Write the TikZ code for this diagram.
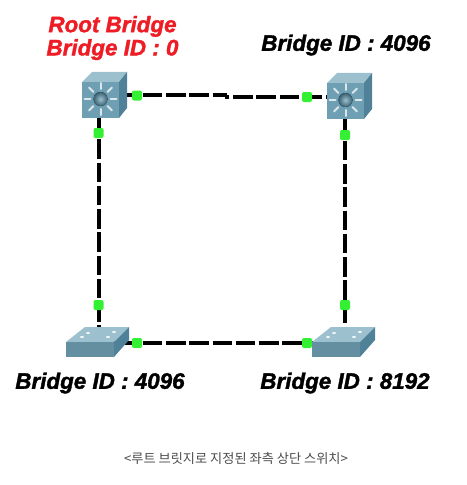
\documentclass[tikz,border=0pt]{standalone}
\usepackage{fontspec}
\setmainfont{Liberation Sans}[BoldItalicFeatures={FakeBold=1.6}]
\newfontfamily\cjk{Noto Sans CJK KR}
\usepackage{xcolor}
\usetikzlibrary{positioning,calc}
\definecolor{swfront}{HTML}{6F9FB3}
\definecolor{swtop}{HTML}{9CC0CE}
\definecolor{swside}{HTML}{4F8299}
\definecolor{portgreen}{HTML}{33F033}
\definecolor{rootred}{HTML}{EE1C25}
\tikzset{
  link/.style={line width=3pt,black,dash pattern=on 14.6pt off 2.85pt,dash phase=2.4pt},
  port/.style={fill=portgreen,draw=none,rounded corners=1.5pt,minimum size=7.5pt,inner sep=0pt},
  bridgeid/.style={font=\bfseries\itshape\fontsize{16.8}{17.4}\selectfont,align=center,inner sep=0pt},
  hub/.style={minimum size=1pt,inner sep=0pt},
  mlswitch/.pic={
    \fill[swtop] (0,-18) -- (10,-28) -- (45,-28) -- (37,-18) -- cycle;
    \fill[swside] (37,-18) -- (45,-28) -- (45,8) -- (37,18) -- cycle;
    \fill[swfront] (0,-18) rectangle (37,18);
    \foreach \a in {0,45,...,315}
      \draw[white!75!swfront,line width=1.5pt,line cap=round] ($(18.5,-1)+(\a:10)$) -- ($(18.5,-1)+(\a:16)$);
    \fill[inner color=swtop,outer color=swside!75!black] (18.5,-1) circle (7);
  },
  l2switch/.pic={
    \fill[swtop] (0,-1) -- (19,-16) -- (63,-16) -- (48,-1) -- cycle;
    \fill[swside] (48,-1) -- (63,-16) -- (63,-3) -- (48,14) -- cycle;
    \fill[swfront!90!black] (0,-1) rectangle (48,14);
    \foreach \p in {(22,-10),(16,-6),(48,-11),(42,-6)}
      \fill[white!85!swtop] \p ellipse (2 and 1);
  },
}
\begin{document}
\begin{tikzpicture}[x=0.75pt,y=-0.75pt]
  % page frame, pixel grid of the screenshot
  \useasboundingbox (0,0) rectangle (467,485);

  \node[hub] (rootsw) at (98.5,95) {};
  \node[hub] (topsw) at (345,96.5) {};
  \node[hub] (leftsw) at (98.5,343) {};
  \node[hub] (rightsw) at (345,343) {};
  \coordinate (jog) at (225,95);
  \coordinate (jogb) at (225,96.5);

  % Links first, the switches sit on top of them
  \draw[link] (rootsw) -- (jog) -- (jogb);
  \draw[link,dash phase=1.2pt] (topsw) -- (jogb);
  \draw[link] (rootsw) -- (leftsw);
  \draw[link] (topsw) -- (rightsw);
  \draw[link] (leftsw) -- (rightsw);

  \pic at (82,100) {mlswitch};
  \pic at (327,101) {mlswitch};
  \pic at (66,343) {l2switch};
  \pic at (312,343) {l2switch};

  % Port lights
  \node[port] (p1) at (137,95.5) {};
  \node[port] (p2) at (307,97) {};
  \node[port] (p3) at (98.5,133) {};
  \node[port] (p4) at (98.5,305) {};
  \node[port] (p5) at (345,135) {};
  \node[port] (p6) at (345,305) {};
  \node[port] (p7) at (137,343) {};
  \node[port] (p8) at (307,343) {};

  % Labels
  \node[bridgeid,text=rootred] (rootlabel) at (112.5,38) {Root Bridge\\Bridge ID : 0};
  \node[bridgeid] (toplabel) at (346,45) {Bridge ID : 4096};
  \node[bridgeid] (leftlabel) at (100,383) {Bridge ID : 4096};
  \node[bridgeid] (rightlabel) at (345,383) {Bridge ID : 8192};
  \node[font=\cjk\fontsize{9.9}{12}\selectfont,text=black!70,inner sep=0pt] (caption) at (236,459) {<루트 브릿지로 지정된 좌측 상단 스위치>};
\end{tikzpicture}
\end{document}
